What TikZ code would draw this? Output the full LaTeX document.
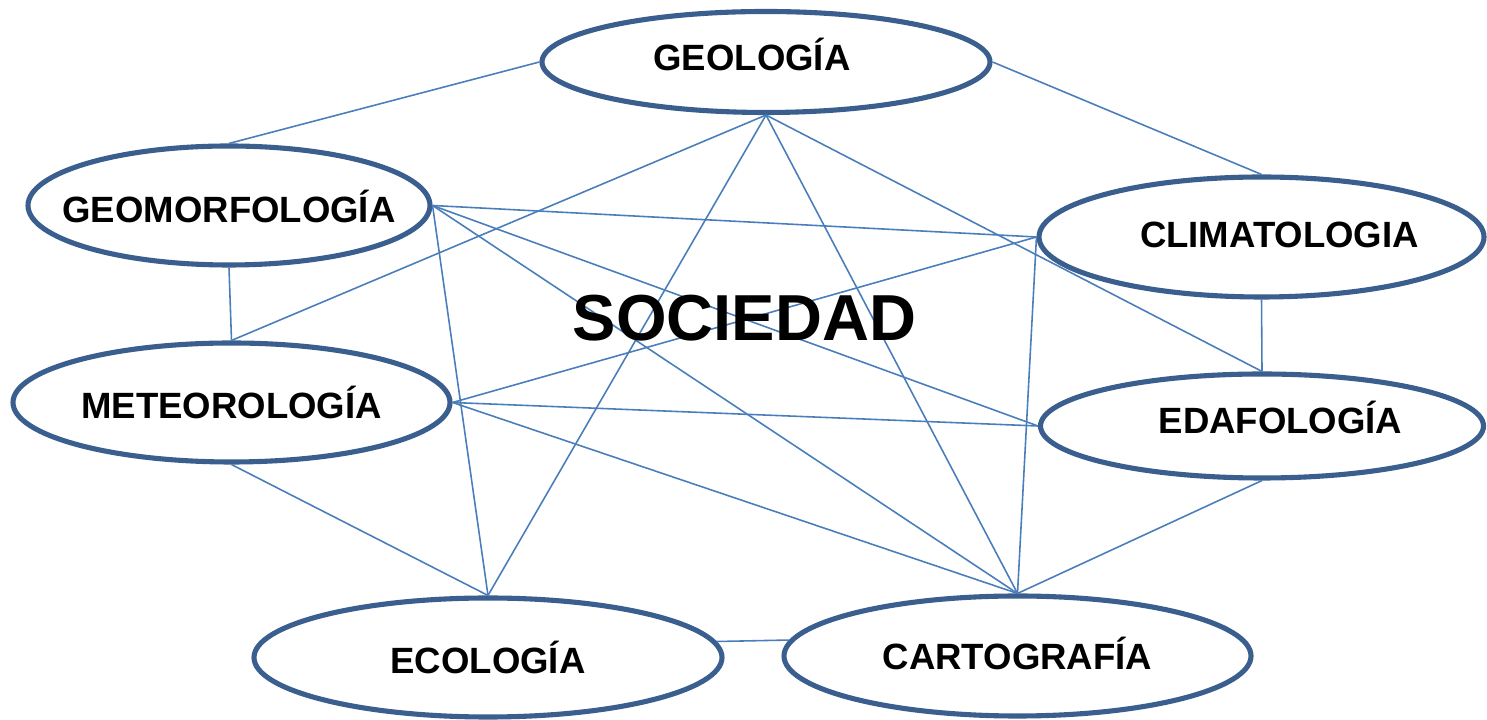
\documentclass[tikz,border=0pt]{standalone}
\usepackage{fontspec}
\setmainfont{Liberation Sans}
\usepackage{tikz}
\usetikzlibrary{positioning,shapes.geometric}
\definecolor{ringblue}{HTML}{3A5E8E}
\definecolor{linkblue}{HTML}{4A7EBB}

\begin{document}
\begin{tikzpicture}[main node/.style={ellipse, draw=ringblue, line width=1.45pt, fill=white,
        inner sep=0pt},
        every label/.style={font=\fontsize{10.4}{12}\selectfont\bfseries, inner sep=0pt,
        text height=7.4pt, text depth=0pt},
        link/.style={linkblue, line width=0.45pt}
        ]
        \useasboundingbox (0,0) rectangle (14.87,-7.20);

        \node [main node, minimum width=4.48cm, minimum height=1.01cm,
               label={[xshift=-0.14cm, yshift=0.04cm]center:GEOLOGÍA}] (geologia) at (7.66,-0.62) {};
        \node [main node, minimum width=4.02cm, minimum height=1.19cm,
               label={[yshift=-0.04cm]center:GEOMORFOLOGÍA}] (geomorf) at (2.29,-2.055) {};
        \node [main node, minimum width=4.45cm, minimum height=1.20cm,
               label={[xshift=0.18cm, yshift=0.02cm]center:CLIMATOLOGIA}] (climat) at (12.615,-2.37) {};
        \node [main node, minimum width=4.37cm, minimum height=1.19cm,
               label={[yshift=-0.03cm]center:METEOROLOGÍA}] (meteo) at (2.315,-4.025) {};
        \node [main node, minimum width=4.43cm, minimum height=1.04cm,
               label={[xshift=0.185cm, yshift=0.05cm]center:EDAFOLOGÍA}] (edafo) at (12.62,-4.26) {};
        \node [main node, minimum width=4.68cm, minimum height=1.19cm,
               label={[yshift=-0.03cm]center:ECOLOGÍA}] (ecologia) at (4.88,-6.575) {};
        \node [main node, minimum width=4.67cm, minimum height=1.20cm,
               label={center:CARTOGRAFÍA}] (carto) at (10.175,-6.56) {};

        \path[link]
        (geologia.west) edge (geomorf.north)
        (geologia.east) edge (climat.north)
        (geologia.south) edge (meteo.north)
        (geologia.south) edge (ecologia.north)
        (geologia.south) edge (carto.north)
        (geologia.south) edge (edafo.north)
        (geomorf.south) edge (meteo.north)
        (geomorf.east) edge (climat.west)
        (geomorf.east) edge (edafo.west)
        (geomorf.east) edge (carto.north)
        (geomorf.east) edge (ecologia.north)
        (climat.south) edge (edafo.north)
        (climat.west) edge (carto.north)
        (meteo.east) edge (climat.west)
        (meteo.east) edge (edafo.west)
        (meteo.east) edge (carto.north)
        (meteo.south) edge (ecologia.north)
        (edafo.south) edge (carto.north)
        (ecologia.4) edge (carto.176)
        ;

        \node [font=\fontsize{18.5}{22}\selectfont\bfseries] (sociedad) at (7.445,-3.18) {SOCIEDAD};
     \end{tikzpicture}
\end{document}
